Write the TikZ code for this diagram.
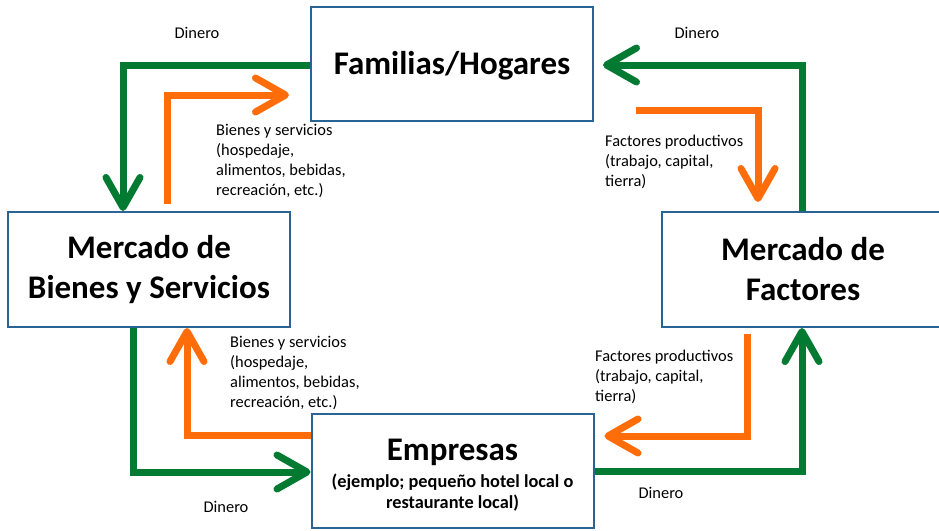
\documentclass[tikz,border=0pt]{standalone}
\usepackage{fontspec}
\setmainfont{Carlito}
\usetikzlibrary{arrows.meta}
\definecolor{boxblue}{HTML}{2A6496}
\definecolor{flowgreen}{HTML}{037A32}
\definecolor{floworange}{HTML}{FF6D0A}
\tikzset{
  box/.style={draw=boxblue, line width=2pt, fill=white, minimum width=282pt, minimum height=114pt, align=center, inner sep=0pt, font=\bfseries\fontsize{33}{40}\selectfont},
  chev/.tip={Straight Barb[length=30pt,width=34pt,round]},
  gline/.style={draw=flowgreen, line width=7pt, -chev},
  oline/.style={draw=floworange, line width=7pt, -chev},
  lab/.style={font=\fontsize{16.4}{20}\selectfont, align=left, inner sep=0pt},
}
\begin{document}
\begin{tikzpicture}[x=1pt,y=-1pt]
\useasboundingbox[fill=white] (0,0) rectangle (939,530);
\node[box] (fam) at (452,63.5) {\rule{0pt}{27pt}Familias/Hogares};
\node[box, minimum height=115pt] (bie) at (149,269.5) {Mercado de\\Bienes y Servicios};
\node[box, minimum height=115pt] (fac) at (803,269.5) {Mercado de\\Factores};
\node[box, font=\bfseries\fontsize{18.3}{21}\selectfont] (emp) at (452.5,471) {{\fontsize{33}{33}\selectfont\rule{0pt}{30pt}Empresas}\\[6pt](ejemplo; pequeño hotel local o\\restaurante local)};
% green money flows
\draw[gline] (fam.west |- 0,65) -| (bie.north -| 123,0);
\draw[gline, shorten >=9pt] (fac.north -| 802,0) |- (fam.east |- 0,65);
\draw[gline] (bie.south -| 133,0) |- (emp.west |- 0,472);
\draw[gline] (emp.east |- 0,471) -| (fac.south -| 802,0);
% orange real flows
\draw[oline, shorten <=7pt, shorten >=21pt] (bie.north -| 167,0) |- (fam.west |- 0,95);
\draw[oline, shorten <=42pt, shorten >=9pt] (fam.east |- 0,110) -| (fac.north -| 758,0);
\draw[oline] (emp.west |- 0,435) -| (bie.south -| 187,0);
\draw[oline, shorten <=6pt, shorten >=10pt] (fac.south -| 747,0) |- (emp.east |- 0,436);
% labels
\node[lab] (d1) at (197,33) {Dinero};
\node[lab] (d2) at (697,33) {Dinero};
\node[lab] (d3) at (226,507) {Dinero};
\node[lab] (d4) at (661,493) {Dinero};
\node[lab, anchor=north west] (b1) at (216,124.5) {Bienes y servicios\\(hospedaje,\\alimentos, bebidas,\\recreación, etc.)};
\node[lab, anchor=north west] (b2) at (230,336.5) {Bienes y servicios\\(hospedaje,\\alimentos, bebidas,\\recreación, etc.)};
\node[lab, anchor=north west] (f1) at (605,134.5) {Factores productivos\\(trabajo, capital,\\tierra)};
\node[lab, anchor=north west] (f2) at (595,349.5) {Factores productivos\\(trabajo, capital,\\tierra)};
\end{tikzpicture}
\end{document}
